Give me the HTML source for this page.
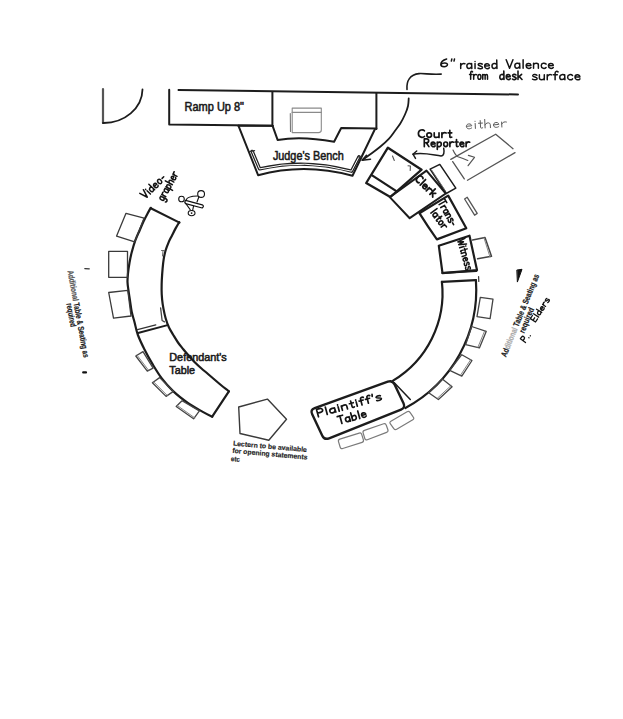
<!DOCTYPE html>
<html><head><meta charset="utf-8"><style>
html,body{margin:0;padding:0;background:#fff;}
svg{display:block;}
</style></head><body>
<svg width="623" height="719" viewBox="0 0 623 719" stroke-linecap="round" stroke-linejoin="round">
<rect width="623" height="719" fill="#fff"/>
<path d="M103,89 L103,123" stroke="#555" stroke-width="2.2" fill="none" />
<path d="M103,123 A39,34 0 0 0 142.5,89.5" stroke="#1c1c1c" stroke-width="1.8" fill="none" />
<path d="M178.5,90 L518,94.5" stroke="#1c1c1c" stroke-width="2.0" fill="none" />
<path d="M169.2,89.8 L169.2,124.6 L272.4,125.8" stroke="#1c1c1c" stroke-width="2" fill="none" />
<path d="M272.4,92 L272.4,126" stroke="#1c1c1c" stroke-width="2" fill="none" />
<path d="M376.4,93 L376.4,129" stroke="#1c1c1c" stroke-width="2" fill="none" />
<path d="M272.6,125.8 L277.6,139.9 Q302,135.6 334.1,141.8 L341.2,128 L376.4,128.6" stroke="#1c1c1c" stroke-width="2" fill="none" />
<path d="M238.5,125.8 L272.6,125.8" stroke="#1c1c1c" stroke-width="2" fill="none" />
<path d="M238.5,125.8 L258.1,175.2 Q304.2,162.4 352.5,175.7 L375,129" stroke="#1c1c1c" stroke-width="2" fill="none" />
<path d="M252.2,151.4 L259.6,168.9 Q304.2,158.4 351.5,171.2 L359,156.8" stroke="#222" stroke-width="3.4" fill="none" />
<path d="M252.2,151.4 L259.6,168.9 Q304.2,158.4 351.5,171.2 L359,156.8" stroke="#fff" stroke-width="1.0" fill="none" />
<path d="M249.6,151.6 L254.6,150.6 M357.8,156.9 L361.2,156.9" stroke="#333" stroke-width="1.2" fill="none" />
<path d="M292.2,108.1 L321.3,108.1 L321.3,130 Q321.3,132.6 318.5,132.6 L292.2,132.6 Z" stroke="#8a8a8a" stroke-width="1.1" fill="none" />
<path d="M292.2,112.4 L321.3,112.4" stroke="#8a8a8a" stroke-width="1.1" fill="none" />
<path d="M290.3,113.5 L290.5,131.5" stroke="#777" stroke-width="1.1" fill="none" />
<path d="M407,89.5 C406.3,81 410,74.5 419,73.6 C425,73.2 430,74.8 441.2,74.1" stroke="#1c1c1c" stroke-width="1.6" fill="none" />
<path d="M408.7,98.5 C408.6,99.8 408.6,103.3 408.0,106.0 C407.4,108.7 406.3,111.6 405.0,114.5 C403.7,117.4 402.1,120.7 400.3,123.5 C398.6,126.3 396.4,128.9 394.5,131.5 C392.6,134.1 391.1,136.4 388.8,138.9 C386.5,141.4 383.3,144.2 380.5,146.5 C377.7,148.8 375.1,150.8 372.1,153.0 C369.1,155.2 364.1,158.8 362.5,160.0" stroke="#1c1c1c" stroke-width="1.8" fill="none" />
<path d="M366.5,155.3 L362.2,160.3 L370.5,159.2" stroke="#1c1c1c" stroke-width="1.6" fill="none" />
<path d="M387.9,147.7 L421.6,169.7 L390.3,197.0 L366.2,183.0Z" stroke="#1c1c1c" stroke-width="2.3" fill="none" />
<path d="M372.5,175.6 L396.7,191.4" stroke="#1c1c1c" stroke-width="2.3" fill="none" />
<path d="M392.5,156 L394.3,160.5 M408,165.7 L410.4,166 L410.2,170.5" stroke="#555" stroke-width="1.1" fill="none" />
<path d="M426.5,170.6 L445.8,193.5 L409.7,218.2 L389.8,197.1Z" stroke="#1c1c1c" stroke-width="2" fill="none" />
<path d="M430.1,169.2 L439.8,164.4 L455.8,188.2 L446.2,193.5Z" stroke="#1c1c1c" stroke-width="1.5" fill="none" />
<path d="M431.8,170.3 L445.5,191" stroke="#666" stroke-width="1" fill="none" />
<path d="M419.4,213.2 L448.2,195.6 L466.3,228.2 L436.9,239.4 Q428,227 419.4,213.2Z" stroke="#1c1c1c" stroke-width="2.2" fill="none" />
<path d="M464.6,199.0 L467.2,197.3 L477.2,213.4 L474.6,215.2Z" stroke="#555" stroke-width="1.3" fill="none" />
<path d="M438.8,245.7 L469.5,235.7 L477.0,270.1 L442.5,273.2Z" stroke="#1c1c1c" stroke-width="2.2" fill="none" />
<path d="M472.6,240 L485,237.6 L491.5,256.3 L477.6,258.8" stroke="#444" stroke-width="1.5" fill="none" />
<path d="M484,238 L490,257" stroke="#888" stroke-width="1" fill="none" />
<path d="M442.3,272.9 L476.4,271" stroke="#1c1c1c" stroke-width="2" fill="none" />
<path d="M441.9,281.9 L475.9,280.2" stroke="#1c1c1c" stroke-width="2.2" fill="none" />
<path d="M441.9,281.9 A102,102 0 0 1 393,380.6" stroke="#1c1c1c" stroke-width="2.2" fill="none" />
<path d="M475.9,280.2 A134,134 0 0 1 405.4,408" stroke="#1c1c1c" stroke-width="2.2" fill="none" />
<path d="M478.6,276.5 L478.8,281.5" stroke="#333" stroke-width="1.2" fill="none" />
<path d="M480.3,297.3 L493.0,299.2 L490.1,318.7 L477.0,316.7Z" stroke="#444" stroke-width="1.3" fill="none" />
<path d="M471.6,326.5 L486.2,331.4 L479.4,347.9 L465.7,344.6Z" stroke="#444" stroke-width="1.3" fill="none" />
<path d="M484.7,330.8 L477.9,347.3" stroke="#777" stroke-width="0.9" fill="none" />
<path d="M461.8,354.7 L472.0,360.5 L461.8,376.1 L449.7,370.3Z" stroke="#444" stroke-width="1.3" fill="none" />
<path d="M470.7,359.6 L460.5,375.2" stroke="#777" stroke-width="0.9" fill="none" />
<path d="M442.3,379.0 L452.1,386.8 L438.4,399.5 L428.7,392.7Z" stroke="#444" stroke-width="1.3" fill="none" />
<path d="M451.0,385.6 L437.3,398.3" stroke="#777" stroke-width="0.9" fill="none" />
<path d="M312.2,414.3 Q310.0,409.8 314.7,408.1 L387.8,381.7 Q392.5,380.0 394.6,384.5 L403.5,403.3 Q405.6,407.8 401.0,409.7 L329.1,438.3 Q324.5,440.2 322.3,435.7Z" stroke="#1c1c1c" stroke-width="2.4" fill="none" />
<path d="M338.5,441.6 Q337.9,439.7 339.8,439.1 L359.2,433.1 Q361.1,432.5 361.7,434.4 L363.4,439.9 Q364.0,441.8 362.1,442.4 L342.7,448.5 Q340.8,449.1 340.2,447.2Z" stroke="#7a7a7a" stroke-width="1.2" fill="none" />
<path d="M363.1,432.9 Q362.5,431.0 364.4,430.4 L383.7,423.7 Q385.6,423.1 386.2,425.0 L387.9,429.8 Q388.5,431.7 386.6,432.4 L367.3,439.7 Q365.4,440.4 364.8,438.5Z" stroke="#7a7a7a" stroke-width="1.2" fill="none" />
<path d="M390.4,423.9 Q389.2,422.3 390.9,421.3 L407.1,411.8 Q408.8,410.8 410.0,412.4 L413.3,417.1 Q414.5,418.7 412.8,419.7 L396.7,429.3 Q395.0,430.3 393.8,428.7Z" stroke="#7a7a7a" stroke-width="1.2" fill="none" />
<path d="M394.3,382.8 L410.3,399.5" stroke="#1c1c1c" stroke-width="1.5" fill="none" />
<path d="M238.7,407.0 L267.4,399.1 L286.5,419.3 L268.8,440.2 L240.0,433.5Z" stroke="#3a3a3a" stroke-width="1.4" fill="none" />
<path d="M150.8,208.2 L179.5,222.6" stroke="#1c1c1c" stroke-width="2.1" fill="none" />
<path d="M150.7,207.8 C150.1,208.9 148.4,211.9 147.2,214.2 C146.0,216.4 144.9,218.6 143.6,221.3 C142.3,224.1 140.9,227.5 139.5,230.7 C138.1,233.8 136.7,236.6 135.4,240.2 C134.1,243.8 132.8,248.2 131.8,252.0 C130.8,255.8 130.1,259.1 129.5,262.7 C128.9,266.2 128.3,270.1 128.0,273.3 C127.7,276.5 127.4,279.2 127.5,282.0 C127.6,284.8 128.0,287.1 128.4,290.0 C128.8,292.9 129.2,295.7 129.8,299.3 C130.4,302.9 130.9,308.0 131.7,311.8 C132.5,315.6 133.6,318.5 134.6,322.4 C135.6,326.3 136.2,330.5 137.9,335.0 C139.6,339.5 142.1,344.7 144.5,349.5 C146.9,354.3 149.5,359.1 152.4,363.9 C155.3,368.7 158.3,373.8 161.8,378.4 C165.3,383.0 169.1,387.3 173.4,391.4 C177.7,395.5 183.0,399.5 187.8,402.9 C192.6,406.3 198.2,409.3 202.3,411.6 C206.4,413.9 210.5,415.9 212.2,416.7" stroke="#1c1c1c" stroke-width="2.2" fill="none" />
<path d="M179.2,222.2 C178.6,223.2 176.8,226.2 175.6,228.4 C174.4,230.6 173.2,233.1 172.0,235.5 C170.8,237.9 169.6,240.0 168.5,242.6 C167.4,245.2 166.3,248.1 165.5,250.8 C164.7,253.6 164.2,256.1 163.7,259.1 C163.2,262.1 162.9,265.1 162.6,268.6 C162.3,272.1 162.0,276.4 161.8,280.0 C161.6,283.6 161.6,286.8 161.6,290.0 C161.6,293.2 161.8,296.2 162.1,299.3 C162.4,302.4 162.9,305.7 163.5,308.9 C164.1,312.1 164.8,315.4 165.7,318.5 C166.6,321.6 167.7,324.8 169.0,327.5 C170.3,330.2 171.8,332.5 173.3,335.0 C174.8,337.5 176.3,340.1 178.0,342.5 C179.7,344.9 181.7,347.2 183.5,349.5 C185.3,351.8 187.1,353.8 189.0,356.0 C190.9,358.2 192.9,360.4 195.0,362.5 C197.1,364.6 199.3,366.6 201.5,368.5 C203.7,370.4 205.8,372.1 208.0,374.0 C210.2,375.9 212.8,378.1 215.0,380.0 C217.2,381.9 219.2,383.6 221.5,385.5 C223.8,387.4 227.7,390.3 228.9,391.3" stroke="#1c1c1c" stroke-width="2.2" fill="none" />
<path d="M228.9,391.3 L212.2,416.7" stroke="#1c1c1c" stroke-width="2.2" fill="none" />
<path d="M137.5,329.6 L155.8,324.8" stroke="#333" stroke-width="1.3" fill="none" />
<path d="M138,333 L167.6,325.2" stroke="#1c1c1c" stroke-width="1.9" fill="none" />
<path d="M160.6,307.9 L162.1,320.5 L164.5,321.9" stroke="#444" stroke-width="1.3" fill="none" />
<path d="M161.5,250.5 L164.5,250.5 M163,251 L162.5,256" stroke="#666" stroke-width="1" fill="none" />
<path d="M126.0,213.3 L144.1,218.1 L134.7,241.9 L116.6,236.1Z" stroke="#3a3a3a" stroke-width="1.3" fill="none" />
<path d="M108.7,251.3 L127.5,251.3 L127.5,277.3 L108.7,277.3Z" stroke="#3a3a3a" stroke-width="1.3" fill="none" />
<path d="M108.7,292.5 L127.8,290.3 L131.0,316.0 L113.5,318.2Z" stroke="#3a3a3a" stroke-width="1.3" fill="none" />
<path d="M135.8,356.0 L143.0,351.6 L153.1,368.2 L147.3,371.1Z" stroke="#444" stroke-width="1.3" fill="none" />
<path d="M137.0,355.1 L148.5,370.2" stroke="#777" stroke-width="0.9" fill="none" />
<path d="M152.4,382.7 L159.6,377.6 L173.4,391.4 L166.1,396.4Z" stroke="#444" stroke-width="1.3" fill="none" />
<path d="M153.6,381.8 L167.3,395.5" stroke="#777" stroke-width="0.9" fill="none" />
<path d="M176.2,406.5 L182.0,400.8 L199.4,410.9 L193.6,418.8Z" stroke="#444" stroke-width="1.3" fill="none" />
<path d="M177.4,405.6 L194.8,417.9" stroke="#777" stroke-width="0.9" fill="none" />
<text x="184.5" y="110.6" font-size="12" fill="#1a1a1a" font-weight="normal" font-family="Liberation Sans" stroke="#1a1a1a" stroke-width="0.55" textLength="59.5" lengthAdjust="spacingAndGlyphs">Ramp Up 8"</text>
<text x="272.9" y="159.6" font-size="12.3" fill="#1a1a1a" font-weight="normal" font-family="Liberation Sans" stroke="#1a1a1a" stroke-width="0.55" textLength="70.8" lengthAdjust="spacingAndGlyphs">Judge's Bench</text>
<text x="169.3" y="361.0" font-size="11" fill="#1a1a1a" font-weight="normal" font-family="Liberation Sans" stroke="#1a1a1a" stroke-width="0.55" textLength="57.5" lengthAdjust="spacingAndGlyphs">Defendant's</text>
<text x="169.3" y="374.0" font-size="11" fill="#1a1a1a" font-weight="normal" font-family="Liberation Sans" stroke="#1a1a1a" stroke-width="0.55" textLength="25.8" lengthAdjust="spacingAndGlyphs">Table</text>
<text x="232.9" y="445.6" font-size="6.9" fill="#222" font-weight="bold" font-family="Liberation Sans" stroke="#222" stroke-width="0.15" textLength="74" lengthAdjust="spacingAndGlyphs" transform="rotate(5 232.9 445.6)">Lectern to be available</text>
<text x="232.2" y="452.8" font-size="6.9" fill="#222" font-weight="bold" font-family="Liberation Sans" stroke="#222" stroke-width="0.15" textLength="75.3" lengthAdjust="spacingAndGlyphs" transform="rotate(5.2 232.2 452.8)">for opening statements</text>
<text x="230.8" y="461.0" font-size="6.9" fill="#222" font-weight="bold" font-family="Liberation Sans" stroke="#222" stroke-width="0.15" textLength="9" lengthAdjust="spacingAndGlyphs" transform="rotate(5 230.8 461)">etc</text>
<g transform="translate(67.5,271) rotate(79.5)">
<text x="0.0" y="0.0" font-size="8.4" fill="#1a1a1a" font-weight="bold" font-family="Liberation Sans" stroke="#1a1a1a" stroke-width="0.2" textLength="88.5" lengthAdjust="spacingAndGlyphs"><tspan fill="#555" stroke="#555">Additional</tspan> Table &amp; Seating as</text>
<text x="32.0" y="7.2" font-size="8.4" fill="#1a1a1a" font-weight="bold" font-family="Liberation Sans" stroke="#1a1a1a" stroke-width="0.2" textLength="24" lengthAdjust="spacingAndGlyphs">required</text>
</g>
<g transform="translate(506,357.6) rotate(-67.9)">
<text x="0.0" y="0.0" font-size="8.4" fill="#1a1a1a" font-weight="bold" font-family="Liberation Sans" stroke="#1a1a1a" stroke-width="0.2" textLength="88.7" lengthAdjust="spacingAndGlyphs">Ad<tspan fill="#aaa" stroke="#aaa">ditional</tspan> Table &amp; Seating as</text>
<text x="29.0" y="7.8" font-size="8.4" fill="#1a1a1a" font-weight="bold" font-family="Liberation Sans" stroke="#1a1a1a" stroke-width="0.2" textLength="26.8" lengthAdjust="spacingAndGlyphs">required</text>
</g>
<path d="M517.2,270 L522,269.3 L517.5,281.7 Z" stroke="#111" stroke-width="1" fill="#111" />
<path d="M84.8,268.6 L89.3,268.8" stroke="#333" stroke-width="1.2" fill="none" />
<path d="M83.2,372.4 L86,372.4" stroke="#111" stroke-width="2.2" fill="none" />
<g transform="translate(440.8,66.8) rotate(0.0) scale(1.670,0.920)"><path d="M 3.50 -8.50 C 1.50 -7.40 0.00 -5.20 0.00 -2.60 C 0.00 0.60 4.00 0.60 4.00 -2.40 C 4.00 -4.80 1.00 -4.80 0.00 -2.60 M 6.60 -8.50 L 6.30 -6.20 M 8.20 -8.50 L 7.90 -6.20" stroke="#141414" stroke-width="1.5" fill="none" vector-effect="non-scaling-stroke"/></g>
<g transform="translate(460.7,68.6) rotate(0.0) scale(1.185,1.000)"><path d="M 0.00 -5.00 L 0.00 0.00 M 0.00 -3.00 C 0.80 -5.00 2.40 -5.40 3.60 -4.80 M 9.20 -4.00 C 8.40 -5.60 5.20 -5.60 5.20 -2.50 C 5.20 0.60 8.40 0.60 9.20 -2.00 M 9.20 -5.00 L 9.40 0.00 M 12.10 -5.00 L 12.10 0.00 M 12.10 -7.20 L 12.10 -7.00 M 18.20 -4.50 C 17.20 -5.60 14.60 -5.30 14.80 -3.80 C 15.10 -2.50 18.40 -2.70 18.40 -1.20 C 18.40 0.50 15.60 0.40 14.60 -0.50 M 20.40 -2.60 L 24.20 -2.80 C 24.20 -5.60 20.20 -5.60 20.20 -2.50 C 20.20 0.60 23.20 0.60 24.20 -0.80 M 30.40 -4.00 C 29.60 -5.60 26.40 -5.60 26.40 -2.50 C 26.40 0.60 29.60 0.60 30.40 -2.00 M 30.40 -8.50 L 30.60 0.00" stroke="#141414" stroke-width="1.5" fill="none" vector-effect="non-scaling-stroke"/></g>
<g transform="translate(506.2,68.3) rotate(0.0) scale(1.200,1.000)"><path d="M 0.00 -8.50 L 2.80 0.00 L 5.60 -8.50 M 11.20 -4.00 C 10.40 -5.60 7.20 -5.60 7.20 -2.50 C 7.20 0.60 10.40 0.60 11.20 -2.00 M 11.20 -5.00 L 11.40 0.00 M 14.10 -8.50 L 14.10 0.00 M 16.80 -2.60 L 20.60 -2.80 C 20.60 -5.60 16.60 -5.60 16.60 -2.50 C 16.60 0.60 19.60 0.60 20.60 -0.80 M 22.80 -5.00 L 22.80 0.00 M 22.80 -3.50 C 23.30 -5.60 26.80 -5.60 26.80 -3.50 L 26.80 0.00 M 33.20 -4.20 C 32.20 -5.60 29.20 -5.60 29.20 -2.50 C 29.20 0.60 32.20 0.60 33.20 -0.80 M 35.40 -2.60 L 39.20 -2.80 C 39.20 -5.60 35.20 -5.60 35.20 -2.50 C 35.20 0.60 38.20 0.60 39.20 -0.80" stroke="#141414" stroke-width="1.5" fill="none" vector-effect="non-scaling-stroke"/></g>
<g transform="translate(469.7,79.3) rotate(0.0) scale(0.795,0.950)"><path d="M 3.60 -7.80 C 2.80 -8.80 1.20 -8.40 1.20 -6.50 L 1.20 0.00 M -0.20 -5.00 L 3.00 -5.00 M 5.00 -5.00 L 5.00 0.00 M 5.00 -3.00 C 5.80 -5.00 7.40 -5.40 8.60 -4.80 M 12.20 -5.00 C 9.60 -5.00 9.60 0.00 12.20 0.00 C 14.80 0.00 14.80 -5.00 12.20 -5.00 Z M 16.40 -5.00 L 16.40 0.00 M 16.40 -3.50 C 16.80 -5.60 19.40 -5.60 19.40 -3.50 L 19.40 0.00 M 19.40 -3.50 C 19.80 -5.60 22.40 -5.60 22.40 -3.50 L 22.40 0.00" stroke="#141414" stroke-width="1.5" fill="none" vector-effect="non-scaling-stroke"/></g>
<g transform="translate(499.8,79.5) rotate(0.0) scale(1.000,1.000)"><path d="M 4.00 -4.00 C 3.20 -5.60 0.00 -5.60 0.00 -2.50 C 0.00 0.60 3.20 0.60 4.00 -2.00 M 4.00 -8.50 L 4.20 0.00 M 6.60 -2.60 L 10.40 -2.80 C 10.40 -5.60 6.40 -5.60 6.40 -2.50 C 6.40 0.60 9.40 0.60 10.40 -0.80 M 16.20 -4.50 C 15.20 -5.60 12.60 -5.30 12.80 -3.80 C 13.10 -2.50 16.40 -2.70 16.40 -1.20 C 16.40 0.50 13.60 0.40 12.60 -0.50 M 18.20 -8.50 L 18.20 0.00 M 21.80 -5.20 L 18.40 -2.20 M 19.40 -3.00 L 22.20 0.00" stroke="#141414" stroke-width="1.6" fill="none" vector-effect="non-scaling-stroke"/></g>
<g transform="translate(532.5,79.7) rotate(0.0) scale(1.228,1.000)"><path d="M 3.60 -4.50 C 2.60 -5.60 0.00 -5.30 0.20 -3.80 C 0.50 -2.50 3.80 -2.70 3.80 -1.20 C 3.80 0.50 1.00 0.40 0.00 -0.50 M 5.60 -5.00 L 5.60 -1.60 C 5.60 0.60 9.10 0.60 9.60 -1.60 M 9.60 -5.00 L 9.60 0.00 M 12.00 -5.00 L 12.00 0.00 M 12.00 -3.00 C 12.80 -5.00 14.40 -5.40 15.60 -4.80 M 20.80 -7.80 C 20.00 -8.80 18.40 -8.40 18.40 -6.50 L 18.40 0.00 M 17.00 -5.00 L 20.20 -5.00 M 26.20 -4.00 C 25.40 -5.60 22.20 -5.60 22.20 -2.50 C 22.20 0.60 25.40 0.60 26.20 -2.00 M 26.20 -5.00 L 26.40 0.00 M 32.60 -4.20 C 31.60 -5.60 28.60 -5.60 28.60 -2.50 C 28.60 0.60 31.60 0.60 32.60 -0.80 M 34.80 -2.60 L 38.60 -2.80 C 38.60 -5.60 34.60 -5.60 34.60 -2.50 C 34.60 0.60 37.60 0.60 38.60 -0.80" stroke="#141414" stroke-width="1.5" fill="none" vector-effect="non-scaling-stroke"/></g>
<g transform="translate(466.5,128.9) rotate(-3.0) scale(1.332,1.000)"><path d="M 0.20 -2.60 L 4.00 -2.80 C 4.00 -5.60 0.00 -5.60 0.00 -2.50 C 0.00 0.60 3.00 0.60 4.00 -0.80 M 6.70 -5.00 L 6.70 0.00 M 6.70 -7.20 L 6.70 -7.00 M 10.60 -7.60 L 10.60 -0.80 C 10.60 0.20 11.60 0.20 12.20 -0.30 M 9.20 -5.00 L 12.20 -5.00 M 14.00 -8.50 L 14.00 0.00 M 14.00 -3.00 C 14.80 -5.60 18.00 -5.60 18.00 -3.00 L 18.00 0.00 M 20.60 -2.60 L 24.40 -2.80 C 24.40 -5.60 20.40 -5.60 20.40 -2.50 C 20.40 0.60 23.40 0.60 24.40 -0.80 M 26.60 -5.00 L 26.60 0.00 M 26.60 -3.00 C 27.40 -5.00 29.00 -5.40 30.20 -4.80" stroke="#5a5a5a" stroke-width="1.0" fill="none" vector-effect="non-scaling-stroke"/></g>
<g transform="translate(418.4,137.4) rotate(0.0) scale(1.199,0.920)"><path d="M 5.00 -7.20 C 4.00 -8.80 0.00 -8.80 0.00 -4.20 C 0.00 0.60 4.00 0.40 5.00 -1.00 M 9.00 -5.00 C 6.40 -5.00 6.40 0.00 9.00 0.00 C 11.60 0.00 11.60 -5.00 9.00 -5.00 Z M 13.20 -5.00 L 13.20 -1.60 C 13.20 0.60 16.70 0.60 17.20 -1.60 M 17.20 -5.00 L 17.20 0.00 M 19.60 -5.00 L 19.60 0.00 M 19.60 -3.00 C 20.40 -5.00 22.00 -5.40 23.20 -4.80 M 26.20 -7.60 L 26.20 -0.80 C 26.20 0.20 27.20 0.20 27.80 -0.30 M 24.80 -5.00 L 27.80 -5.00" stroke="#141414" stroke-width="1.7" fill="none" vector-effect="non-scaling-stroke"/></g>
<g transform="translate(424.3,146.6) rotate(0.0) scale(1.000,0.920)"><path d="M 0.00 0.00 L 0.00 -8.50 L 2.40 -8.50 C 5.00 -8.50 5.00 -4.20 2.40 -4.20 L 0.00 -4.20 M 2.00 -4.20 L 4.60 0.00 M 7.00 -2.60 L 10.80 -2.80 C 10.80 -5.60 6.80 -5.60 6.80 -2.50 C 6.80 0.60 9.80 0.60 10.80 -0.80 M 13.00 -5.00 L 13.00 3.00 M 13.00 -3.00 C 13.80 -5.60 17.00 -5.60 17.00 -2.50 C 17.00 0.60 14.00 0.60 13.00 -1.00 M 21.40 -5.00 C 18.80 -5.00 18.80 0.00 21.40 0.00 C 24.00 0.00 24.00 -5.00 21.40 -5.00 Z M 25.60 -5.00 L 25.60 0.00 M 25.60 -3.00 C 26.40 -5.00 28.00 -5.40 29.20 -4.80 M 32.20 -7.60 L 32.20 -0.80 C 32.20 0.20 33.20 0.20 33.80 -0.30 M 30.80 -5.00 L 33.80 -5.00 M 35.80 -2.60 L 39.60 -2.80 C 39.60 -5.60 35.60 -5.60 35.60 -2.50 C 35.60 0.60 38.60 0.60 39.60 -0.80 M 41.80 -5.00 L 41.80 0.00 M 41.80 -3.00 C 42.60 -5.00 44.20 -5.40 45.40 -4.80" stroke="#141414" stroke-width="1.7" fill="none" vector-effect="non-scaling-stroke"/></g>
<path d="M443.7,148.3 C444.5,152 444,156 441,156 C433,155 423,152 413,154.2" stroke="#1c1c1c" stroke-width="1.5" fill="none" />
<path d="M413,154.2 L416.7,151 M413,154.2 L415.5,158.4" stroke="#1c1c1c" stroke-width="1.5" fill="none" />
<path d="M450.8,159.4 L495.7,134.2 L513,148.7 M515,152.6 L467.5,180.2 M452.7,161.6 L464.3,178.9" stroke="#555" stroke-width="1.3" fill="none" />
<path d="M453,150 Q455.5,155.5 458,156.8 Q463,158.5 467.8,160.5 M468.4,155.4 L474.5,157.3 L468.1,165.7" stroke="#555" stroke-width="1.2" fill="none" />
<g transform="translate(415.0,180.0) rotate(44.0) scale(0.969,0.900)"><path d="M 5.00 -7.20 C 4.00 -8.80 0.00 -8.80 0.00 -4.20 C 0.00 0.60 4.00 0.40 5.00 -1.00 M 7.50 -8.50 L 7.50 0.00 M 10.20 -2.60 L 14.00 -2.80 C 14.00 -5.60 10.00 -5.60 10.00 -2.50 C 10.00 0.60 13.00 0.60 14.00 -0.80 M 16.20 -5.00 L 16.20 0.00 M 16.20 -3.00 C 17.00 -5.00 18.60 -5.40 19.80 -4.80 M 21.40 -8.50 L 21.40 0.00 M 25.00 -5.20 L 21.60 -2.20 M 22.60 -3.00 L 25.40 0.00" stroke="#141414" stroke-width="1.8" fill="none" vector-effect="non-scaling-stroke"/></g>
<g transform="translate(438.1,202.8) rotate(60.5) scale(0.804,0.900)"><path d="M 0.00 -8.50 L 5.20 -8.50 M 2.60 -8.50 L 2.60 0.00 M 6.80 -5.00 L 6.80 0.00 M 6.80 -3.00 C 7.60 -5.00 9.20 -5.40 10.40 -4.80 M 16.00 -4.00 C 15.20 -5.60 12.00 -5.60 12.00 -2.50 C 12.00 0.60 15.20 0.60 16.00 -2.00 M 16.00 -5.00 L 16.20 0.00 M 18.40 -5.00 L 18.40 0.00 M 18.40 -3.50 C 18.90 -5.60 22.40 -5.60 22.40 -3.50 L 22.40 0.00 M 28.40 -4.50 C 27.40 -5.60 24.80 -5.30 25.00 -3.80 C 25.30 -2.50 28.60 -2.70 28.60 -1.20 C 28.60 0.50 25.80 0.40 24.80 -0.50 M 30.60 -3.00 L 33.20 -3.00" stroke="#141414" stroke-width="1.6" fill="none" vector-effect="non-scaling-stroke"/></g>
<g transform="translate(430.6,212.8) rotate(53.5) scale(0.868,0.900)"><path d="M 0.50 -8.50 L 0.50 0.00 M 7.00 -4.00 C 6.20 -5.60 3.00 -5.60 3.00 -2.50 C 3.00 0.60 6.20 0.60 7.00 -2.00 M 7.00 -5.00 L 7.20 0.00 M 10.80 -7.60 L 10.80 -0.80 C 10.80 0.20 11.80 0.20 12.40 -0.30 M 9.40 -5.00 L 12.40 -5.00 M 16.20 -5.00 C 13.60 -5.00 13.60 0.00 16.20 0.00 C 18.80 0.00 18.80 -5.00 16.20 -5.00 Z M 20.40 -5.00 L 20.40 0.00 M 20.40 -3.00 C 21.20 -5.00 22.80 -5.40 24.00 -4.80" stroke="#141414" stroke-width="1.6" fill="none" vector-effect="non-scaling-stroke"/></g>
<g transform="translate(457.5,240.5) rotate(73.7) scale(0.801,0.900)"><path d="M 0.00 -8.50 L 1.80 0.00 L 3.60 -6.00 L 5.40 0.00 L 7.20 -8.50 M 9.50 -5.00 L 9.50 0.00 M 9.50 -7.20 L 9.50 -7.00 M 13.40 -7.60 L 13.40 -0.80 C 13.40 0.20 14.40 0.20 15.00 -0.30 M 12.00 -5.00 L 15.00 -5.00 M 16.80 -5.00 L 16.80 0.00 M 16.80 -3.50 C 17.30 -5.60 20.80 -5.60 20.80 -3.50 L 20.80 0.00 M 23.40 -2.60 L 27.20 -2.80 C 27.20 -5.60 23.20 -5.60 23.20 -2.50 C 23.20 0.60 26.20 0.60 27.20 -0.80 M 33.00 -4.50 C 32.00 -5.60 29.40 -5.30 29.60 -3.80 C 29.90 -2.50 33.20 -2.70 33.20 -1.20 C 33.20 0.50 30.40 0.40 29.40 -0.50 M 38.60 -4.50 C 37.60 -5.60 35.00 -5.30 35.20 -3.80 C 35.50 -2.50 38.80 -2.70 38.80 -1.20 C 38.80 0.50 36.00 0.40 35.00 -0.50" stroke="#141414" stroke-width="1.5" fill="none" vector-effect="non-scaling-stroke"/></g>
<g transform="translate(318.5,416.8) rotate(-15.2) scale(1.320,0.900)"><path d="M 0.00 0.00 L 0.00 -8.50 L 2.40 -8.50 C 5.00 -8.50 5.00 -4.20 2.40 -4.20 L 0.00 -4.20 M 6.90 -8.50 L 6.90 0.00 M 13.40 -4.00 C 12.60 -5.60 9.40 -5.60 9.40 -2.50 C 9.40 0.60 12.60 0.60 13.40 -2.00 M 13.40 -5.00 L 13.60 0.00 M 16.30 -5.00 L 16.30 0.00 M 16.30 -7.20 L 16.30 -7.00 M 18.80 -5.00 L 18.80 0.00 M 18.80 -3.50 C 19.30 -5.60 22.80 -5.60 22.80 -3.50 L 22.80 0.00 M 26.60 -7.60 L 26.60 -0.80 C 26.60 0.20 27.60 0.20 28.20 -0.30 M 25.20 -5.00 L 28.20 -5.00 M 30.50 -5.00 L 30.50 0.00 M 30.50 -7.20 L 30.50 -7.00 M 36.60 -7.80 C 35.80 -8.80 34.20 -8.40 34.20 -6.50 L 34.20 0.00 M 32.80 -5.00 L 36.00 -5.00 M 41.60 -7.80 C 40.80 -8.80 39.20 -8.40 39.20 -6.50 L 39.20 0.00 M 37.80 -5.00 L 41.00 -5.00 M 43.60 -8.50 L 43.30 -6.20 M 49.40 -4.50 C 48.40 -5.60 45.80 -5.30 46.00 -3.80 C 46.30 -2.50 49.60 -2.70 49.60 -1.20 C 49.60 0.50 46.80 0.40 45.80 -0.50" stroke="#141414" stroke-width="1.7" fill="none" vector-effect="non-scaling-stroke"/></g>
<g transform="translate(339.3,424.2) rotate(-15.5) scale(1.058,0.920)"><path d="M 0.00 -8.50 L 5.20 -8.50 M 2.60 -8.50 L 2.60 0.00 M 10.80 -4.00 C 10.00 -5.60 6.80 -5.60 6.80 -2.50 C 6.80 0.60 10.00 0.60 10.80 -2.00 M 10.80 -5.00 L 11.00 0.00 M 13.20 -8.50 L 13.20 0.00 M 13.20 -3.00 C 14.00 -5.60 17.20 -5.60 17.20 -2.50 C 17.20 0.60 14.20 0.60 13.20 -1.00 M 20.10 -8.50 L 20.10 0.00 M 22.80 -2.60 L 26.60 -2.80 C 26.60 -5.60 22.60 -5.60 22.60 -2.50 C 22.60 0.60 25.60 0.60 26.60 -0.80" stroke="#141414" stroke-width="1.7" fill="none" vector-effect="non-scaling-stroke"/></g>
<g transform="translate(145.5,199.0) rotate(-45.0) scale(0.901,0.950)"><path d="M 0.00 -8.50 L 2.80 0.00 L 5.60 -8.50 M 7.70 -5.00 L 7.70 0.00 M 7.70 -7.20 L 7.70 -7.00 M 14.20 -4.00 C 13.40 -5.60 10.20 -5.60 10.20 -2.50 C 10.20 0.60 13.40 0.60 14.20 -2.00 M 14.20 -8.50 L 14.40 0.00 M 16.80 -2.60 L 20.60 -2.80 C 20.60 -5.60 16.60 -5.60 16.60 -2.50 C 16.60 0.60 19.60 0.60 20.60 -0.80 M 24.80 -5.00 C 22.20 -5.00 22.20 0.00 24.80 0.00 C 27.40 0.00 27.40 -5.00 24.80 -5.00 Z M 29.20 -3.00 L 31.80 -3.00" stroke="#141414" stroke-width="1.5" fill="none" vector-effect="non-scaling-stroke"/></g>
<g transform="translate(163.5,201.0) rotate(-61.3) scale(0.760,0.950)"><path d="M 4.00 -4.00 C 3.20 -5.60 0.00 -5.60 0.00 -2.50 C 0.00 0.60 3.20 0.60 4.00 -2.00 M 4.00 -5.00 L 4.00 1.50 C 4.00 3.60 1.00 3.60 0.00 2.20 M 6.40 -5.00 L 6.40 0.00 M 6.40 -3.00 C 7.20 -5.00 8.80 -5.40 10.00 -4.80 M 15.60 -4.00 C 14.80 -5.60 11.60 -5.60 11.60 -2.50 C 11.60 0.60 14.80 0.60 15.60 -2.00 M 15.60 -5.00 L 15.80 0.00 M 18.00 -5.00 L 18.00 3.00 M 18.00 -3.00 C 18.80 -5.60 22.00 -5.60 22.00 -2.50 C 22.00 0.60 19.00 0.60 18.00 -1.00 M 24.40 -8.50 L 24.40 0.00 M 24.40 -3.00 C 25.20 -5.60 28.40 -5.60 28.40 -3.00 L 28.40 0.00 M 31.00 -2.60 L 34.80 -2.80 C 34.80 -5.60 30.80 -5.60 30.80 -2.50 C 30.80 0.60 33.80 0.60 34.80 -0.80 M 37.00 -5.00 L 37.00 0.00 M 37.00 -3.00 C 37.80 -5.00 39.40 -5.40 40.60 -4.80" stroke="#141414" stroke-width="1.5" fill="none" vector-effect="non-scaling-stroke"/></g>
<g stroke="#111" fill="none" stroke-width="1.1">
<circle cx="181.5" cy="199" r="2.8"/><circle cx="201.1" cy="194" r="3.4"/><ellipse cx="191.6" cy="213.1" rx="3.4" ry="2.6"/>
<path d="M186.2,199.8 C187,197 190,196.2 197.5,196 M199,196.5 L197,202 M185.4,203 L190.2,209.6 M193.5,206.3 L192.6,210.5"/>
<path d="M185.6,200.3 L202.3,204.8 Q204,205.8 203,207.2 L202.2,208 L185.6,203.6 Q184,202.6 185.6,200.3 Z" stroke-width="1.2"/>
<circle cx="191.6" cy="213.1" r="0.9" fill="#111" stroke="none"/>
</g>
<g transform="translate(525.5,342.5) rotate(-53.6) scale(0.849,0.750)"><path d="M 0.00 0.00 L 0.00 -8.50 L 2.40 -8.50 C 5.00 -8.50 5.00 -4.20 2.40 -4.20 L 0.00 -4.20 M 6.90 -0.20 L 6.90 0.00 M 9.70 -0.20 L 9.70 0.00" stroke="#141414" stroke-width="1.3" fill="none" vector-effect="non-scaling-stroke"/></g>
<g transform="translate(535.5,322.0) rotate(-57.0) scale(0.844,0.720)"><path d="M 4.50 -8.50 L 0.00 -8.50 L 0.00 0.00 L 4.50 0.00 M 0.00 -4.20 L 3.60 -4.20 M 6.90 -8.50 L 6.90 0.00 M 13.40 -4.00 C 12.60 -5.60 9.40 -5.60 9.40 -2.50 C 9.40 0.60 12.60 0.60 13.40 -2.00 M 13.40 -8.50 L 13.60 0.00 M 16.00 -2.60 L 19.80 -2.80 C 19.80 -5.60 15.80 -5.60 15.80 -2.50 C 15.80 0.60 18.80 0.60 19.80 -0.80 M 22.00 -5.00 L 22.00 0.00 M 22.00 -3.00 C 22.80 -5.00 24.40 -5.40 25.60 -4.80 M 30.80 -4.50 C 29.80 -5.60 27.20 -5.30 27.40 -3.80 C 27.70 -2.50 31.00 -2.70 31.00 -1.20 C 31.00 0.50 28.20 0.40 27.20 -0.50" stroke="#141414" stroke-width="1.3" fill="none" vector-effect="non-scaling-stroke"/></g>
</svg>
</body></html>
